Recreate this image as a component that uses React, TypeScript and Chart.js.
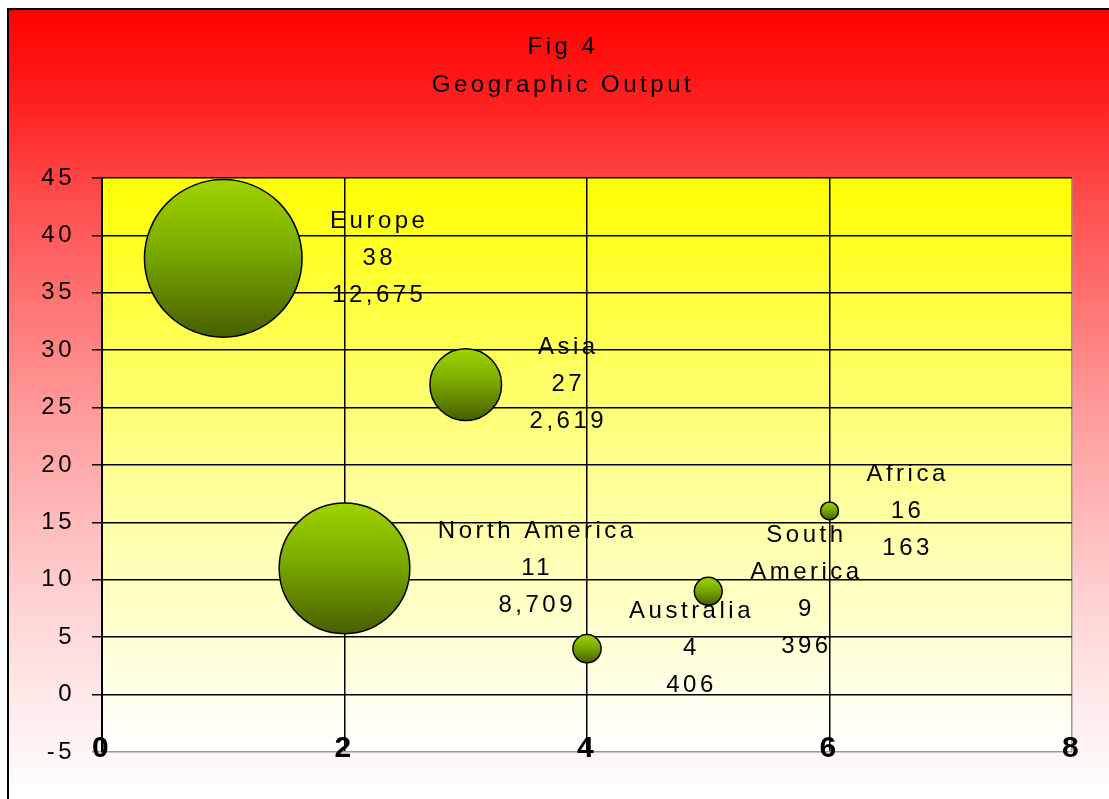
import React, { useEffect, useRef } from 'react';
import { Chart, registerables } from 'chart.js';

Chart.register(...registerables);

// ---- data ----
const regions = ['Europe', 'Asia', 'North America', 'Australia', 'South\nAmerica', 'Africa'];
const xPositions = [1, 3, 2, 4, 5, 6];
const shares = [38, 27, 11, 4, 9, 16];
const outputs = [12675, 2619, 8709, 406, 396, 163];
const titleLines = ['Fig 4', 'Geographic Output'];
const xAxisRange = [0, 8, 2]; // min, max, step
const yAxisRange = [-5, 45, 5]; // min, max, step

const FONT = '"Liberation Sans", Arial, sans-serif';
const SPACING = '3.5px';
const BUBBLE_SCALE = 0.7;

const bgPlugin = {
  id: 'bgPlugin',
  beforeLayout(chart: any) {
    chart.ctx.letterSpacing = SPACING;
  },
  beforeDraw(chart: any) {
    const { ctx, width, height, chartArea: a } = chart;
    ctx.save();
    const g = ctx.createLinearGradient(0, 0, 0, height);
    g.addColorStop(0, '#ff0000');
    g.addColorStop(0.12, '#ff2020');
    g.addColorStop(0.25, '#ff5050');
    g.addColorStop(0.5, '#ff9898');
    g.addColorStop(0.75, '#ffd2d2');
    g.addColorStop(0.92, '#fff2f2');
    g.addColorStop(1, '#ffffff');
    ctx.fillStyle = g;
    ctx.fillRect(0, 0, width, height);
    if (a && Number.isFinite(a.top) && Number.isFinite(a.bottom)) {
      const g2 = ctx.createLinearGradient(0, a.top, 0, a.bottom);
      g2.addColorStop(0, '#ffff00');
      g2.addColorStop(0.5, '#ffff90');
      g2.addColorStop(1, '#ffffff');
      ctx.fillStyle = g2;
      ctx.fillRect(a.left, a.top, a.right - a.left, a.bottom - a.top);
    }
    ctx.restore();
    ctx.letterSpacing = SPACING;
  },
  afterDraw(chart: any) {
    const { ctx, width, height } = chart;
    ctx.save();
    // title
    ctx.font = `24px ${FONT}`;
    ctx.letterSpacing = SPACING;
    ctx.fillStyle = '#000';
    ctx.textAlign = 'center';
    ctx.textBaseline = 'middle';
    titleLines.forEach((t, i) => ctx.fillText(t, 556, 39 + i * 38));
    // outer frame (top/left)
    ctx.fillRect(0, 0, width, 2);
    ctx.fillRect(0, 0, 2, height);
    ctx.restore();
  },
};

const labelPlugin = {
  id: 'bubbleLabels',
  afterDatasetsDraw(chart: any) {
    const ctx = chart.ctx;
    const meta = chart.getDatasetMeta(0);
    ctx.save();
    ctx.font = `24px ${FONT}`;
    ctx.letterSpacing = SPACING;
    ctx.fillStyle = '#000';
    ctx.textBaseline = 'middle';
    ctx.textAlign = 'center';
    meta.data.forEach((el: any, i: number) => {
      const lines = [...regions[i].split('\n'), String(shares[i]), outputs[i].toLocaleString('en-US')];
      const w = Math.max(...lines.map((l) => ctx.measureText(l).width));
      const r = el.options.radius;
      const cx = el.x + r + 28 + w / 2;
      const lh = 37;
      const top = el.y - ((lines.length - 1) * lh) / 2;
      lines.forEach((l, j) => ctx.fillText(l, cx, top + j * lh));
    });
    ctx.restore();
  },
};

export default function App() {
  const ref = useRef<HTMLCanvasElement>(null);
  useEffect(() => {
    if (!ref.current) return;
    const points = regions.map((_, i) => ({
      x: xPositions[i],
      y: shares[i],
      r: Math.sqrt(outputs[i]) * BUBBLE_SCALE,
    }));
    const chart = new Chart(ref.current, {
      type: 'bubble',
      data: {
        datasets: [
          {
            label: 'Geographic Output',
            data: points,
            borderColor: '#000',
            borderWidth: 1.5,
            backgroundColor: (c: any) => {
              const ch = c.chart;
              const ys = ch.scales && ch.scales.y;
              if (c.type !== 'data' || !ys || !c.raw) return '#7fb000';
              const yp = ys.getPixelForValue(c.raw.y);
              const r = c.raw.r;
              if (!Number.isFinite(yp) || !Number.isFinite(r)) return '#7fb000';
              const g = ch.ctx.createLinearGradient(0, yp - r, 0, yp + r);
              g.addColorStop(0, '#a0d400');
              g.addColorStop(0.45, '#7aaa00');
              g.addColorStop(1, '#485f00');
              return g;
            },
          },
        ],
      },
      options: {
        responsive: false,
        animation: false,
        layout: { padding: { left: 0, right: 37, top: 170, bottom: 0 }, autoPadding: false },
        plugins: {
          legend: { display: false },
          tooltip: { enabled: false },
          title: { display: false },
        },
        scales: {
          x: {
            type: 'linear',
            position: 'bottom',
            min: xAxisRange[0],
            max: xAxisRange[1],
            afterFit: (s: any) => {
              s.height = 47;
            },
            ticks: {
              stepSize: xAxisRange[2],
              color: '#000',
              mirror: true,
              padding: -14.5,
              font: { family: FONT, size: 30, weight: 'bold' },
            },
            grid: {
              color: (c: any) => (c.tick && c.tick.value === xAxisRange[1] ? '#999' : '#000'),
              lineWidth: 1.5,
              drawTicks: false,
            },
            border: { color: '#999', width: 1.5 },
          },
          y: {
            type: 'linear',
            position: 'left',
            min: yAxisRange[0],
            max: yAxisRange[1],
            afterFit: (s: any) => {
              s.width = 95;
            },
            ticks: {
              stepSize: yAxisRange[2],
              color: '#000',
              padding: 17,
              font: { family: FONT, size: 24 },
            },
            grid: {
              color: (c: any) => (c.tick && c.tick.value === yAxisRange[0] ? 'rgba(0,0,0,0)' : '#000'),
              tickColor: (c: any) => (c.tick && c.tick.value === yAxisRange[0] ? '#999' : '#000'),
              lineWidth: 1.5,
              tickLength: 10,
            },
            border: { color: '#000', width: 2 },
          },
        },
      },
      plugins: [bgPlugin, labelPlugin],
    } as any);
    return () => chart.destroy();
  }, []);
  return (
    <div style={{ position: 'fixed', left: 7, top: 8 }}>
      <canvas ref={ref} width={1102} height={791} style={{ display: 'block' }} />
    </div>
  );
}
